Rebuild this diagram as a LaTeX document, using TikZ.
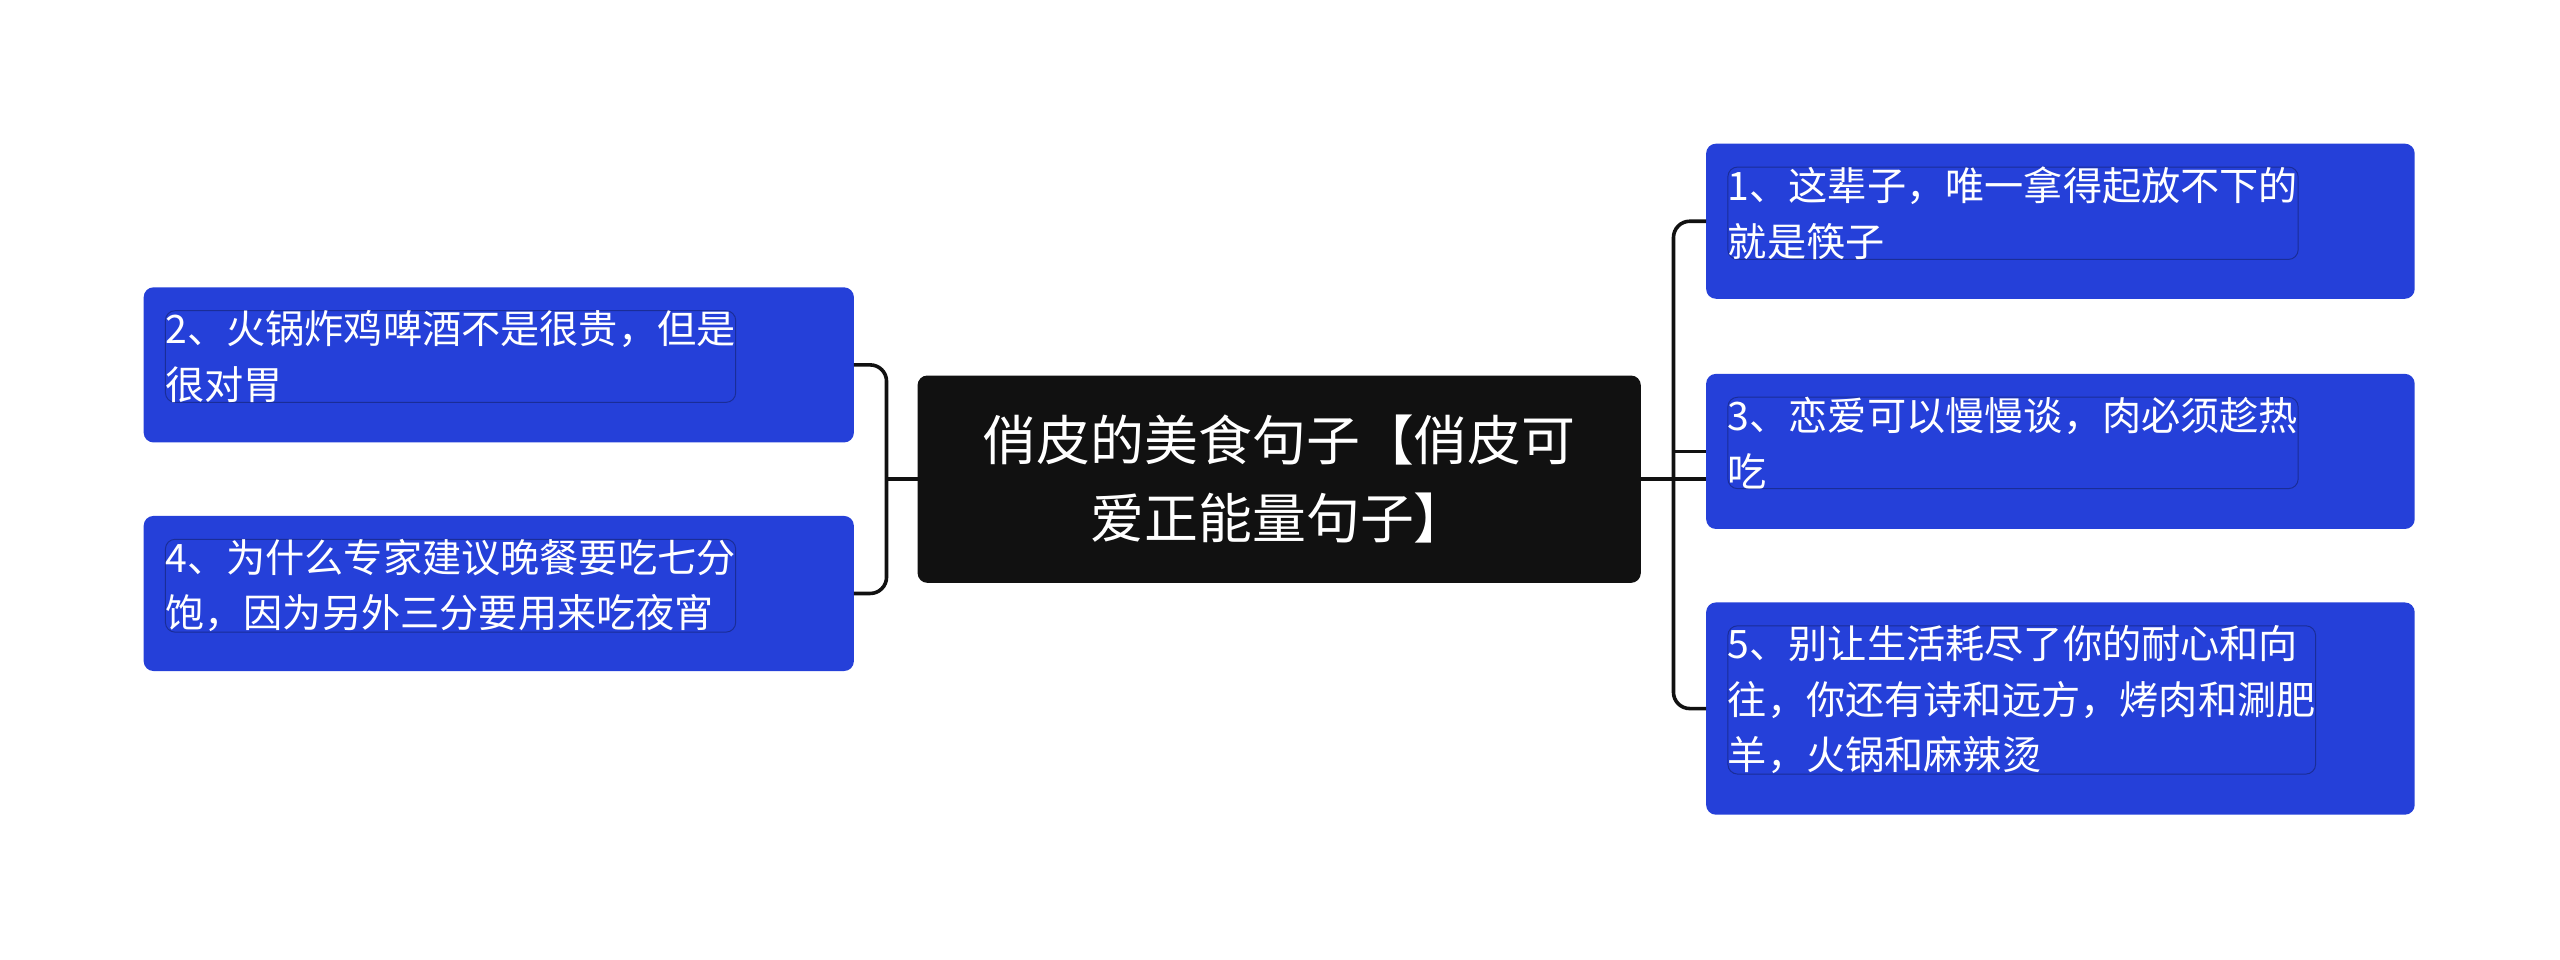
\documentclass[tikz,border=0pt]{standalone}
\usepackage{fontspec}
\newfontfamily\cjk{Noto Sans CJK SC}
\definecolor{bl}{HTML}{2540D9}
\definecolor{dk}{HTML}{111111}
\begin{document}
\begin{tikzpicture}[x=1pt,y=-1pt,
  leaf/.style={fill=bl,draw=bl!70!black,line width=0.6pt,rounded corners=6pt,text=white,font=\cjk\fontsize{24}{34}\selectfont,align=left,anchor=north west,inner sep=0pt},
  conn/.style={draw=dk,line width=2.2pt,rounded corners=10pt}]
\useasboundingbox (0,0) rectangle (1568,588);
\fill[dk,rounded corners=6pt] (562,230) rectangle (1005,357);
\node (c) at (783.5,293.5) [text=white,font=\cjk\fontsize{33}{48}\selectfont,align=center] {俏皮的美食句子【俏皮可\\爱正能量句子】};
\path (562,230) coordinate (cnw) (1005,357) coordinate (cse);
\coordinate (cl) at (562,293.5); \coordinate (cr) at (1005,293.5);
\newcommand\leafbox[6]{\fill[bl,rounded corners=6pt] (#1,#2) rectangle (#3,#4); \node[leaf] (#5) at (#1+13,#2+14) {#6};}
\leafbox{88}{176}{523}{271}{l1}{2、火锅炸鸡啤酒不是很贵，但是\\很对胃}
\leafbox{88}{316}{523}{411}{l2}{4、为什么专家建议晚餐要吃七分\\饱，因为另外三分要用来吃夜宵}
\leafbox{1045}{88}{1479}{183}{r1}{1、这辈子，唯一拿得起放不下的\\就是筷子}
\leafbox{1045}{229}{1479}{324}{r2}{3、恋爱可以慢慢谈，肉必须趁热\\吃}
\leafbox{1045}{369}{1479}{499}{r3}{5、别让生活耗尽了你的耐心和向\\往，你还有诗和远方，烤肉和涮肥\\羊，火锅和麻辣烫}
\coordinate (la) at (523,223.5); \coordinate (lb) at (523,363.5);
\coordinate (ra) at (1045,135.5); \coordinate (rb) at (1045,276.5); \coordinate (rc) at (1045,434);
\draw[conn] (cl) -- (543,293.5);
\draw[conn] (la) -| (543,293.5) |- (lb);
\draw[conn] (cr) -- (1045,293.5);
\draw[conn] (ra) -| (1025,293.5) |- (rc);
\draw[conn] (1025,276.5) -- (rb);
\end{tikzpicture}
\end{document}
